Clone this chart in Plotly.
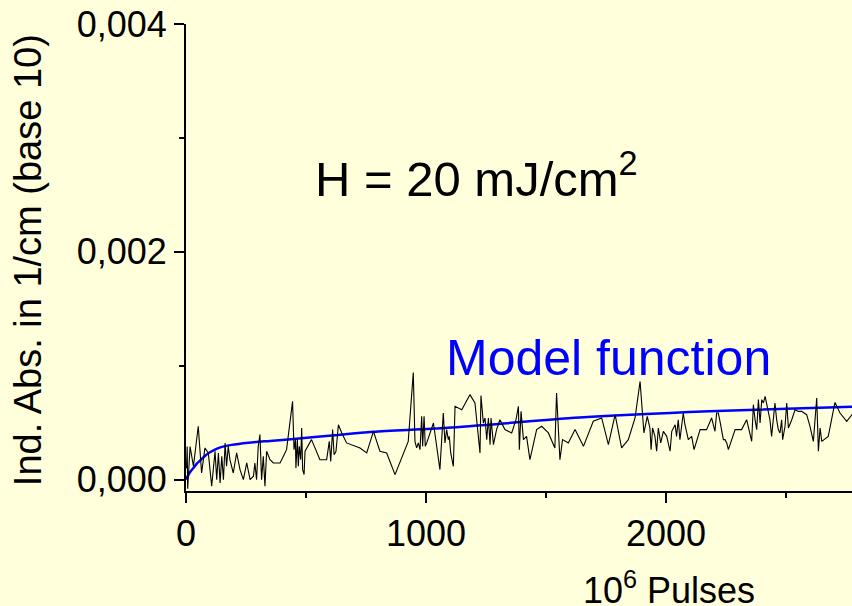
import plotly.graph_objects as go

# Measured data (10^6 pulses, induced absorption 1/cm)
pulses = [2, 5, 7, 17, 31, 51, 65, 79, 93, 107, 121, 128, 135, 142, 149, 156, 163, 169, 176, 183,
          197, 211, 225, 239, 253, 267, 281, 287, 294, 301, 308, 315, 322, 329, 336, 350, 364, 392,
          419, 444, 450, 456, 458, 464, 468, 472, 478, 482, 486, 492, 496, 523, 558, 586, 597, 603,
          611, 617, 625, 635, 649, 669, 725, 753, 781, 808, 836, 871, 926, 947, 954, 961, 968, 975,
          982, 986, 992, 997, 1003, 1031, 1058, 1072, 1079, 1086, 1093, 1097, 1103, 1114, 1121, 1149,
          1183, 1204, 1225, 1229, 1239, 1246, 1253, 1260, 1267, 1271, 1281, 1294, 1308, 1329, 1357,
          1375, 1385, 1389, 1396, 1406, 1419, 1433, 1461, 1482, 1510, 1537, 1544, 1551, 1558, 1569,
          1593, 1621, 1656, 1697, 1732, 1760, 1788, 1815, 1843, 1871, 1892, 1908, 1922, 1933, 1938,
          1944, 1954, 1961, 1968, 1978, 1989, 2003, 2017, 2024, 2038, 2044, 2051, 2058, 2072, 2079,
          2093, 2107, 2117, 2142, 2169, 2190, 2204, 2211, 2218, 2225, 2239, 2246, 2253, 2260, 2288,
          2315, 2336, 2357, 2364, 2371, 2378, 2385, 2392, 2399, 2406, 2413, 2419, 2433, 2440, 2454,
          2461, 2468, 2475, 2482, 2486, 2496, 2503, 2510, 2524, 2538, 2551, 2565, 2586, 2600, 2614,
          2628, 2635, 2642, 2649, 2676, 2704, 2725, 2753, 2775, 2800]
absorption = [0.00010, 0.00029, -0.00008, 0.00029, 0.000117, 0.000468, 0.000058, 0.000278, 0.000234,
              -0.000058, 0.000249, 0.0, 0.000234, -0.00003, 0.000205, 0.0, 0.000322, 0.000117,
              0.000292, 0.000175, 0.000058, 0.000234, 0.000088, 0.0, 0.000146, 0.0, 0.00003,
              0.000146, 0.0, 0.000292, 0.000395, 0.0, 0.000205, -0.000058, 0.000249, 0.000175,
              0.000146, 0.000146, 0.000263, 0.000687, 0.000263, 0.000351, 0.000102, 0.000351,
              0.000117, 0.000292, 0.000175, 0.000453, 0.000088, 0.000044, 0.000249, 0.000351,
              0.000175, 0.000175, 0.000336, 0.00016, 0.000439, 0.000219, 0.000249, 0.000482,
              0.00041, 0.000322, 0.000278, 0.000234, 0.000424, 0.000249, 0.000234, 0.000044,
              0.000336, 0.00094, 0.000336, 0.000278, 0.000322, 0.000263, 0.000556, 0.000292,
              0.000556, 0.000292, 0.000322, 0.000497, 0.000088, 0.000585, 0.000322, 0.000439,
              0.000351, 0.00038, 0.000234, 0.000117, 0.000643, 0.000614, 0.000746, 0.000673,
              0.000234, 0.000737, 0.000497, 0.000541, 0.000351, 0.000541, 0.000307, 0.000541,
              0.000307, 0.000439, 0.000526, 0.000439, 0.00041, 0.000526, 0.000643, 0.000263,
              0.000599, 0.000351, 0.00038, 0.000175, 0.000439, 0.000468, 0.00041, 0.000278,
              0.00076, 0.000497, 0.000175, 0.000351, 0.000322, 0.000439, 0.000292, 0.000512,
              0.000541, 0.000307, 0.00057, 0.000278, 0.000351, 0.000541, 0.000862, 0.00041,
              0.000556, 0.000453, 0.000263, 0.000453, 0.00038, 0.000249, 0.000453, 0.000322,
              0.000424, 0.00038, 0.000249, 0.000424, 0.000482, 0.00038, 0.000526, 0.000351,
              0.000585, 0.000482, 0.000351, 0.00038, 0.000263, 0.000439, 0.000439, 0.000541,
              0.000424, 0.000585, 0.000585, 0.000512, 0.000351, 0.000351, 0.000322, 0.000263,
              0.000439, 0.000439, 0.000526, 0.000336, 0.000658, 0.000526, 0.000439, 0.000702,
              0.000497, 0.000702, 0.000673, 0.000731, 0.000673, 0.000526, 0.00038, 0.000673,
              0.000526, 0.000439, 0.00041, 0.000526, 0.000351, 0.000468, 0.000673, 0.000453,
              0.000526, 0.000614, 0.000599, 0.000599, 0.00057, 0.000468, 0.000336, 0.000716,
              0.000249, 0.000453, 0.000336, 0.00038, 0.000678, 0.000585, 0.000512, 0.00057,
              0.000585]

# Model function
model_x = [0, 15, 30, 45, 60, 80, 100, 125, 150, 190, 260, 350, 470, 620, 780, 1090, 1640, 2180, 2780]
model_y = [0.0, 0.00006, 0.0001, 0.00014, 0.00017, 0.00021, 0.00024, 0.000268, 0.000287, 0.000305,
           0.000324, 0.00034, 0.00036, 0.00039, 0.00042, 0.000455, 0.000545, 0.0006, 0.00064]

x_tickvals = [0, 1000, 2000]
x_ticktext = ["0", "1000", "2000"]
x_minor = [500, 1500, 2500]
y_tickvals = [0.0, 0.002, 0.004]
y_ticktext = ["0,000", "0,002", "0,004"]
y_minor = [0.001, 0.003]

BG = "#FFFFDC"
FONT = "Arial, Liberation Sans, sans-serif"

fig = go.Figure()
fig.add_trace(go.Scatter(x=model_x, y=model_y, mode="lines",
                         line=dict(color="#0000FF", width=2.5, shape="spline", smoothing=0.8),
                         showlegend=False, hoverinfo="skip"))
fig.add_trace(go.Scatter(x=pulses, y=absorption, mode="lines", line=dict(color="black", width=1.1),
                         showlegend=False))

fig.update_layout(
    width=852, height=606,
    margin=dict(l=186, r=0, t=24, b=115),
    paper_bgcolor=BG, plot_bgcolor=BG,
    font=dict(family=FONT, color="black"),
    xaxis=dict(range=[0, 2775], showline=True, linecolor="black", linewidth=2, ticks="outside",
               ticklen=10, tickwidth=2, tickcolor="black", tickvals=x_tickvals, ticktext=x_ticktext,
               tickfont=dict(size=36), showgrid=False, zeroline=False,
               minor=dict(tickvals=x_minor, ticks="outside", ticklen=5, tickwidth=2, tickcolor="black")),
    yaxis=dict(range=[-0.0001, 0.004], showline=True, linecolor="black", linewidth=2, ticks="outside",
               ticklen=10, tickwidth=2, tickcolor="black", tickvals=y_tickvals, ticktext=y_ticktext,
               tickfont=dict(size=36), showgrid=False, zeroline=False,
               minor=dict(tickvals=y_minor, ticks="outside", ticklen=5, tickwidth=2, tickcolor="black")),
    annotations=[
        dict(text="H = 20 mJ/cm<sup>2</sup>", x=530, y=0.00267, xref="x", yref="y", xanchor="left",
             yanchor="middle", showarrow=False, font=dict(size=49, color="black")),
        dict(text="Model function", x=1075, y=0.00107, xref="x", yref="y", xanchor="left",
             yanchor="middle", showarrow=False, font=dict(size=50, color="#0000FF")),
        dict(text="10<sup>6</sup> Pulses", x=2012, y=-0.207, xref="x", yref="paper", xanchor="center",
             yanchor="middle", showarrow=False, font=dict(size=36, color="black")),
        dict(text="Ind. Abs. in 1/cm (base 10)", x=-0.237, y=0.4946, xref="paper", yref="paper",
             xanchor="center", yanchor="middle", textangle=-90, showarrow=False,
             font=dict(size=38, color="black")),
    ],
)

fig.write_html("out.html", config={"displayModeBar": False},
               post_script="document.body.style.margin='0px';document.body.style.overflow='hidden';")
